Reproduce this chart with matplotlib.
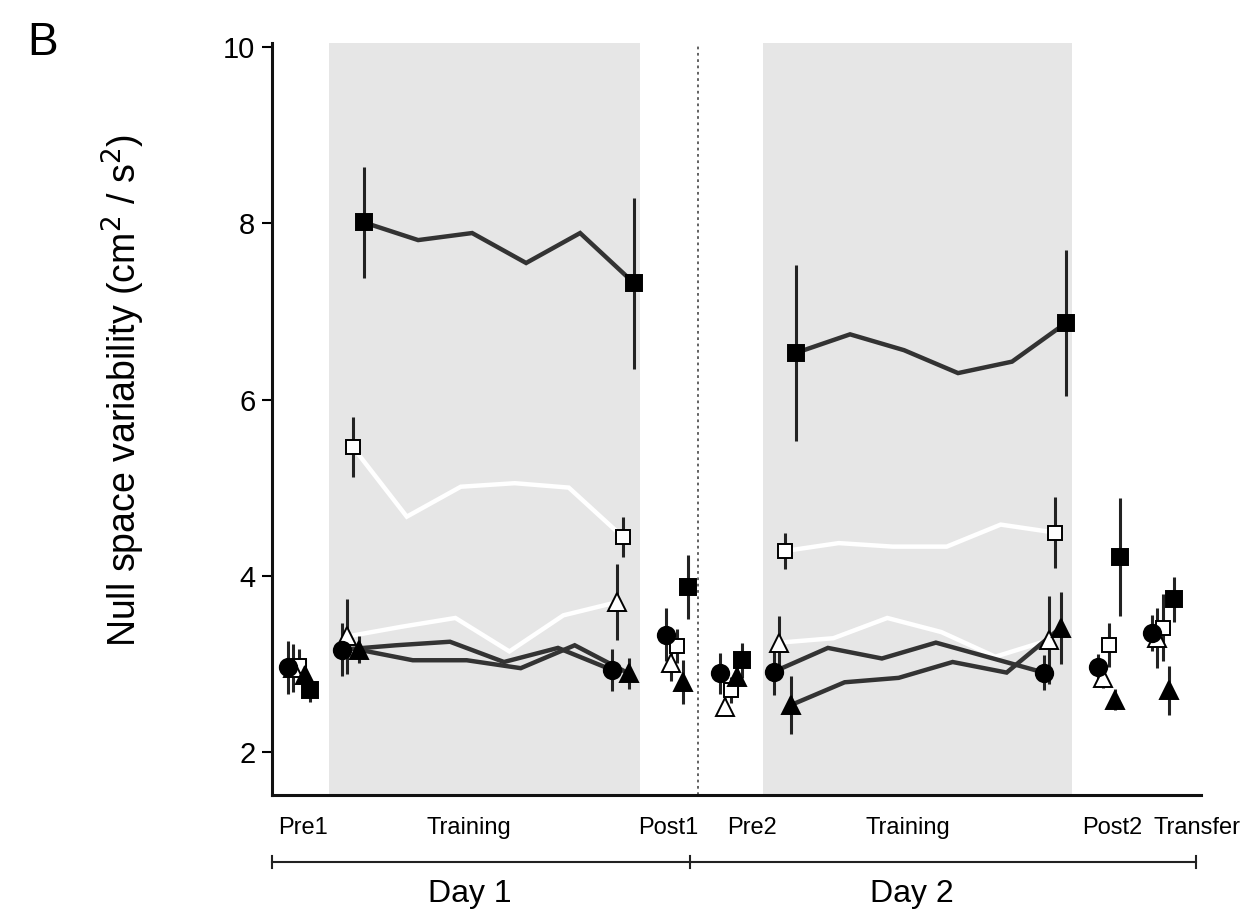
import numpy as np
import matplotlib
matplotlib.use('Agg')
import matplotlib.pyplot as plt
import matplotlib.transforms as mtransforms

# block index: 0 Pre1, 1-6 Training day 1, 7 Post1, 8 Pre2, 9-14 Training day 2, 15 Post2, 16 Transfer
blocks = np.arange(17)
marked = [0, 1, 6, 7, 8, 9, 14, 15, 16]
train_d1 = [1, 2, 3, 4, 5, 6]
train_d2 = [9, 10, 11, 12, 13, 14]

cat_labels = ['Pre1', 'Training', 'Post1', 'Pre2', 'Training', 'Post2', 'Transfer']
cat_x = [0.28, 3.35, 7.04, 8.59, 11.48, 15.26, 16.83]
day_labels = ['Day 1', 'Day 2']
day_x = [3.37, 11.56]

circ = [2.96, 3.16, 3.21, 3.25, 3.02, 3.18, 2.93, 3.33, 2.89,
        2.91, 3.18, 3.06, 3.24, 3.07, 2.90, 2.96, 3.35]
circ_err = [0.30, 0.30, 0, 0, 0, 0, 0.24, 0.30, 0.23,
            0.26, 0, 0, 0, 0, 0.20, 0.15, 0.20]

otri = [2.95, 3.31, 3.42, 3.52, 3.14, 3.55, 3.70, 3.01, 2.51,
        3.24, 3.29, 3.52, 3.36, 3.08, 3.27, 2.84, 3.29]
otri_err = [0.27, 0.43, 0, 0, 0, 0, 0.43, 0.20, 0.10,
            0.30, 0, 0, 0, 0, 0.50, 0.12, 0.34]

osq = [2.97, 5.46, 4.67, 5.01, 5.05, 5.00, 4.44, 3.20, 2.70,
       4.28, 4.37, 4.33, 4.33, 4.58, 4.49, 3.21, 3.41]
osq_err = [0.20, 0.34, 0, 0, 0, 0, 0.23, 0.19, 0.15,
           0.20, 0, 0, 0, 0, 0.40, 0.25, 0.38]

ftri = [2.87, 3.16, 3.04, 3.04, 2.95, 3.21, 2.89, 2.79, 2.85,
        2.53, 2.79, 2.84, 3.02, 2.90, 3.41, 2.59, 2.70]
ftri_err = [0.20, 0.15, 0, 0, 0, 0, 0.18, 0.25, 0.20,
            0.33, 0, 0, 0, 0, 0.41, 0.12, 0.28]

fsq = [2.70, 8.01, 7.81, 7.89, 7.55, 7.89, 7.32, 3.87, 3.04,
       6.53, 6.74, 6.56, 6.30, 6.43, 6.87, 4.21, 3.73]
fsq_err = [0.13, 0.63, 0, 0, 0, 0, 0.97, 0.36, 0.20,
           1.00, 0, 0, 0, 0, 0.83, 0.67, 0.26]

plt.rcParams['font.family'] = ['Liberation Sans', 'DejaVu Sans']

fig = plt.figure(figsize=(12.56, 9.24), dpi=100)
ax = fig.add_axes([0.2166, 0.1396, 0.7396, 0.8141])

ax.axvspan(0.76, 6.52, color='#e6e6e6', zorder=0, lw=0)
ax.axvspan(8.80, 14.52, color='#e6e6e6', zorder=0, lw=0)
ax.axvline(7.59, color='#555555', ls=(0, (1.5, 2.0)), lw=1.3, zorder=1)

# series: values, errors, dodge, marker, face colour, line colour, size
series = [
    (osq, osq_err, 0.20, 's', 'white', 'white', 10.5),
    (otri, otri_err, 0.10, '^', 'white', 'white', 13),
    (circ, circ_err, 0.00, 'o', 'black', '#333333', 12.5),
    (ftri, ftri_err, 0.31, '^', 'black', '#333333', 13),
    (fsq, fsq_err, 0.41, 's', 'black', '#333333', 11),
]

for vals, err, dx, mk, fc, lc, ms in series:
    vals = np.array(vals)
    x = blocks + dx
    for seg in (train_d1, train_d2):
        ax.plot(x[seg], vals[seg], color=lc, lw=3.2, zorder=2,
                solid_joinstyle='miter')

for vals, err, dx, mk, fc, lc, ms in series:
    vals = np.array(vals)
    err = np.array(err)
    x = blocks + dx
    ax.errorbar(x[marked], vals[marked], yerr=err[marked], fmt='none',
                ecolor='#222222', elinewidth=2.2, capsize=0, zorder=3)
    ax.plot(x[marked], vals[marked], ls='none', marker=mk, ms=ms,
            mfc=fc, mec='black', mew=1.4, zorder=4)

ax.set_xlim(-0.296, 16.91)
ax.set_ylim(1.51, 10.05)
ax.set_yticks([2, 4, 6, 8, 10])
ax.set_xticks([])
ax.tick_params(axis='y', direction='out', length=7, width=1.5, labelsize=21, pad=5)
for s in ['top', 'right']:
    ax.spines[s].set_visible(False)
for s in ['left', 'bottom']:
    ax.spines[s].set_linewidth(2.2)
    ax.spines[s].set_color('#111111')

ax.set_ylabel('Null space variability (cm$^2$ / s$^2$)', fontsize=27)
ax.yaxis.set_label_coords(-0.135, 0.538)

trans = mtransforms.blended_transform_factory(ax.transData, ax.transAxes)
for lab, xl in zip(cat_labels, cat_x):
    ax.text(xl, -0.044, lab, transform=trans, ha='center', va='center',
            fontsize=17, clip_on=False)
ax.plot([-0.296, 16.81], [-0.089, -0.089], transform=trans, color='#222222',
        lw=1.5, clip_on=False)
for xt in [-0.296, 7.44, 16.81]:
    ax.plot([xt, xt], [-0.097, -0.081], transform=trans, color='#222222',
            lw=1.5, clip_on=False)
for lab, xl in zip(day_labels, day_x):
    ax.text(xl, -0.131, lab, transform=trans, ha='center', va='center',
            fontsize=23, clip_on=False)

fig.text(0.022, 0.9405, 'B', fontsize=33, va='baseline', ha='left')

fig.savefig('out.png', dpi=100)
